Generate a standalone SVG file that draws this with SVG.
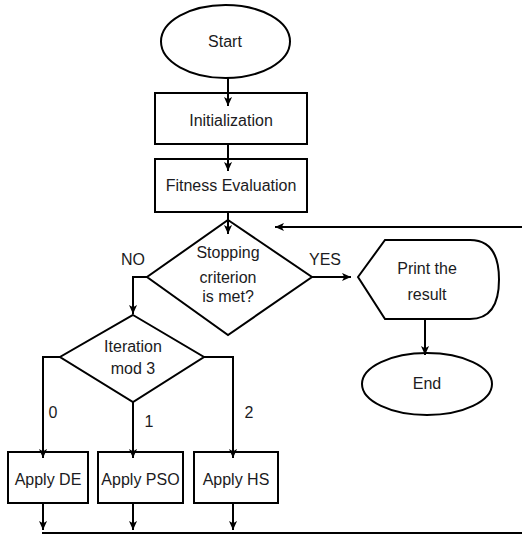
<svg xmlns="http://www.w3.org/2000/svg" width="522" height="536" viewBox="0 0 522 536">
<style>
.s{fill:#fff;stroke:#000;stroke-width:2}
.c{fill:none;stroke:#000;stroke-width:2}
text{font-family:"Liberation Sans",Arial,sans-serif;font-size:16px;fill:#1b1b22;text-anchor:middle}
</style>
<defs>
<marker id="a" viewBox="0 0 10 10" refX="10" refY="5" markerWidth="9" markerHeight="9" orient="auto" markerUnits="userSpaceOnUse">
<path d="M0,0.5 L10,5 L0,9.5 L2.5,5 Z" fill="#000"/>
</marker>
</defs>
<rect width="522" height="536" fill="#fff"/>
<g id="start">
<ellipse class="s" cx="225.5" cy="41.5" rx="64.5" ry="36.5"/>
<text x="225" y="47">Start</text>
</g>
<g id="init">
<rect class="s" x="155" y="93" width="152" height="51"/>
<text x="231" y="126">Initialization</text>
</g>
<g id="fitness">
<rect class="s" x="155" y="159" width="152" height="53"/>
<text x="231" y="191">Fitness Evaluation</text>
</g>
<g id="stop">
<polygon class="s" points="228,220 312,277 228,335 147,277"/>
<text x="228" y="258">Stopping</text>
<text x="228" y="283">criterion</text>
<text x="228" y="302">is met?</text>
</g>
<g id="print">
<path class="s" d="M358,277 L385,240 H470 Q499,240 499,279.5 Q499,319 470,319 H385 Z"/>
<text x="427" y="274">Print the</text>
<text x="427" y="300">result</text>
</g>
<g id="end">
<ellipse class="s" cx="427" cy="384" rx="65" ry="31"/>
<text x="427" y="389">End</text>
</g>
<g id="iter">
<polygon class="s" points="133,315 204,357 133,402 60,357"/>
<text x="133" y="352">Iteration</text>
<text x="133" y="374">mod 3</text>
</g>
<g id="de">
<rect class="s" x="8" y="452" width="80" height="51"/>
<text x="48" y="485">Apply DE</text>
</g>
<g id="pso">
<rect class="s" x="98" y="452" width="85" height="51"/>
<text x="140.5" y="485">Apply PSO</text>
</g>
<g id="hs">
<rect class="s" x="194" y="452" width="84" height="51"/>
<text x="236" y="485">Apply HS</text>
</g>
<g id="connectors">
<path class="c" d="M228,78 V106" marker-end="url(#a)"/>
<path class="c" d="M228,144 V171" marker-end="url(#a)"/>
<path class="c" d="M228,212 V234" marker-end="url(#a)"/>
<path class="c" d="M147,277 H133 V314" marker-end="url(#a)"/>
<path class="c" d="M312,277 H351" marker-end="url(#a)"/>
<path class="c" d="M425,319 V355" marker-end="url(#a)"/>
<path class="c" d="M522,227 H275" marker-end="url(#a)"/>
<path class="c" d="M60,357 H43 V458" marker-end="url(#a)"/>
<path class="c" d="M133,402 V458" marker-end="url(#a)"/>
<path class="c" d="M204,357 H233 V458" marker-end="url(#a)"/>
<path class="c" d="M43,503 V530" marker-end="url(#a)"/>
<path class="c" d="M133,503 V530" marker-end="url(#a)"/>
<path class="c" d="M233,503 V530" marker-end="url(#a)"/>
<path class="c" d="M42,533 H522"/>
<text x="133" y="265">NO</text>
<text x="325" y="265">YES</text>
<text x="53" y="418">0</text>
<text x="149" y="427">1</text>
<text x="249" y="418">2</text>
</g>
</svg>
